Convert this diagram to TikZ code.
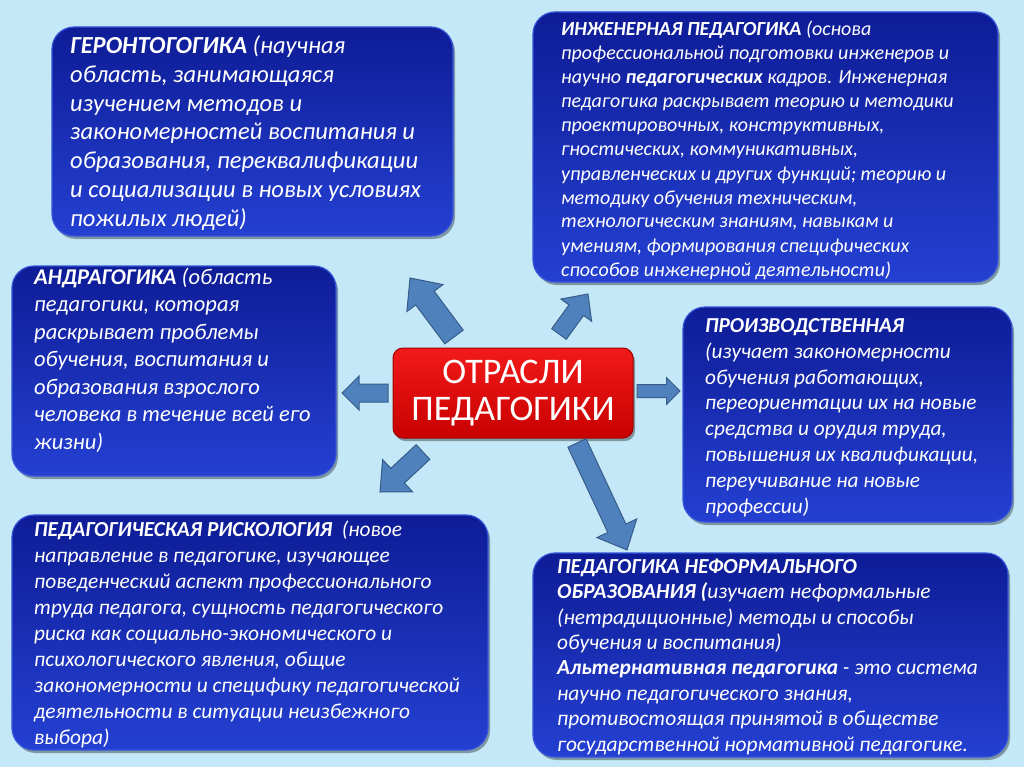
\documentclass[tikz,border=0pt]{standalone}
\usepackage{fontspec}
\setmainfont{Carlito}
\usetikzlibrary{calc,shadows}
\definecolor{bg}{HTML}{C4E8F7}
\definecolor{boxtop}{HTML}{0E1C96}
\definecolor{boxbot}{HTML}{2440D2}
\definecolor{boxedge}{HTML}{3555DC}
\definecolor{redtop}{HTML}{F21A1A}
\definecolor{redbot}{HTML}{C80000}
\definecolor{rededge}{HTML}{A00000}
\definecolor{arrfill}{HTML}{4F81BD}
\definecolor{arredge}{HTML}{385D8A}
\newcommand\blockarrow[6]{%
  \coordinate (#6n) at ($(#2)!#5pt!(#1)$);
  \draw[barrow] ($(#1)!#3pt!90:(#2)$) -- ($(#6n)!#3pt!90:(#2)$) -- ($(#6n)!#4pt!90:(#2)$) -- (#2)
    -- ($(#6n)!#4pt!-90:(#2)$) -- ($(#6n)!#3pt!-90:(#2)$) -- ($(#1)!#3pt!-90:(#2)$) -- cycle;}
\begin{document}
\begin{tikzpicture}[x=1pt,y=-1pt,
  box/.style={draw=boxedge, line width=1.2pt, rounded corners=22pt, top color=boxtop, bottom color=boxbot,
    drop shadow={shadow xshift=2pt, shadow yshift=-3pt, fill=black, opacity=0.35}},
  redbox/.style={draw=rededge, line width=1pt, rounded corners=10pt, top color=redtop, bottom color=redbot,
    drop shadow={shadow xshift=2pt, shadow yshift=-3pt, fill=black, opacity=0.35}},
  txt/.style={text=white, align=left, anchor=base west, inner sep=0pt},
  barrow/.style={fill=arrfill, draw=arredge, line width=1pt, line join=miter}]
\fill[bg] (0,0) rectangle (1024,767);
\useasboundingbox (0,0) rectangle (1024,767);

% boxes
\node[box, minimum width=401, minimum height=209] (b1) at (252.5,131.5) {};
\node[box, minimum width=465, minimum height=270] (b2) at (765.5,147) {};
\node[box, minimum width=324, minimum height=210] (b3) at (174,371) {};
\node[box, minimum width=329, minimum height=215] (b4) at (847.5,414.5) {};
\node[box, minimum width=476, minimum height=235] (b5) at (250,632.5) {};
\node[box, minimum width=475, minimum height=204] (b6) at (770.5,655) {};
\node[redbox, minimum width=240, minimum height=90, text=white, align=center,
  font=\fontsize{36}{37}\selectfont] (c) at (513,393) {ОТРАСЛИ\\ПЕДАГОГИКИ};

% texts (anchored at the baseline of the last line)
\node[txt, font=\fontsize{24.5}{28.7}\selectfont\itshape] (t1) at (70,226) {%
\textbf{ГЕРОНТОГОГИКА} (научная\\
область, занимающаяся\\
изучением методов и\\
закономерностей воспитания и\\
образования, переквалификации\\
и социализации в новых условиях\\
пожилых людей)};

\node[txt, font=\fontsize{20}{24}\selectfont\itshape] (t2) at (561,276) {%
\textbf{ИНЖЕНЕРНАЯ ПЕДАГОГИКА} (основа\\
профессиональной подготовки инженеров и\\
научно \textbf{педагогических} кадров. Инженерная\\
педагогика раскрывает теорию и методики\\
проектировочных, конструктивных,\\
гностических, коммуникативных,\\
управленческих и других функций; теорию и\\
методику обучения техническим,\\
технологическим знаниям, навыкам и\\
умениям, формирования специфических\\
способов инженерной деятельности)};

\node[txt, font=\fontsize{22.5}{27.5}\selectfont\itshape] (t3) at (34,449) {%
\textbf{АНДРАГОГИКА} (область\\
педагогики, которая\\
раскрывает проблемы\\
обучения, воспитания и\\
образования взрослого\\
человека в течение всей его\\
жизни)};

\node[txt, font=\fontsize{21.3}{25.8}\selectfont\itshape] (t4) at (705,513) {%
\textbf{ПРОИЗВОДСТВЕННАЯ}\\
(изучает закономерности\\
обучения работающих,\\
переориентации их на новые\\
средства и орудия труда,\\
повышения их квалификации,\\
переучивание на новые\\
профессии)};

\node[txt, font=\fontsize{21.4}{26}\selectfont\itshape] (t5) at (34,744) {%
\textbf{ПЕДАГОГИЧЕСКАЯ РИСКОЛОГИЯ}\ \ (новое\\
направление в педагогике, изучающее\\
поведенческий аспект профессионального\\
труда педагога, сущность педагогического\\
риска как социально-экономического и\\
психологического явления, общие\\
закономерности и специфику педагогической\\
деятельности в ситуации неизбежного\\
выбора)};

\node[txt, font=\fontsize{21.4}{25.4}\selectfont\itshape] (t6) at (557,751) {%
\textbf{ПЕДАГОГИКА НЕФОРМАЛЬНОГО}\\
\textbf{ОБРАЗОВАНИЯ (}изучает неформальные\\
(нетрадиционные) методы и способы\\
обучения и воспитания)\\
\textbf{Альтернативная педагогика} - это система\\
научно педагогического знания,\\
противостоящая принятой в обществе\\
государственной нормативной педагогике.};

% arrows
\coordinate (a1t) at (454,337); \coordinate (a1h) at (410,278);
\coordinate (a2t) at (559,334); \coordinate (a2h) at (588,294);
\coordinate (a3t) at (388,393); \coordinate (a3h) at (342,393);
\coordinate (a4t) at (637,391); \coordinate (a4h) at (680,391);
\coordinate (a5t) at (423,452); \coordinate (a5h) at (380,492);
\coordinate (a6t) at (577,443); \coordinate (a6h) at (627,550);
\blockarrow{a1t}{a1h}{11.5}{22.5}{25}{a1}
\blockarrow{a2t}{a2h}{9}{19}{20}{a2}
\blockarrow{a3t}{a3h}{9}{17}{17}{a3}
\blockarrow{a4t}{a4h}{6.5}{13.5}{13.5}{a4}
\blockarrow{a5t}{a5h}{10}{22}{24}{a5}
\blockarrow{a6t}{a6h}{10}{22}{24}{a6}
\end{tikzpicture}
\end{document}
